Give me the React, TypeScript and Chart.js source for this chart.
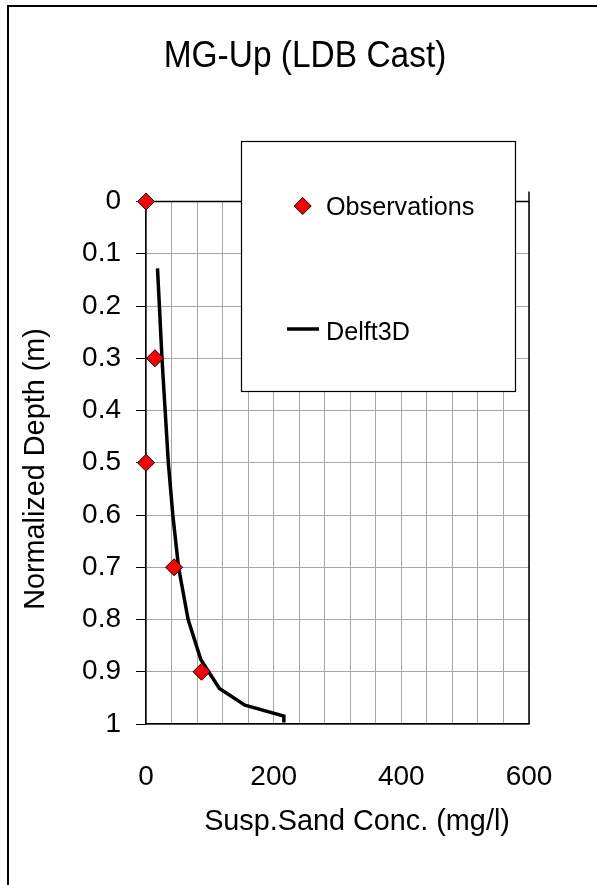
import React, { useEffect, useRef } from 'react';
import { Chart, registerables } from 'chart.js';

Chart.register(...registerables);

const chartTitle = 'MG-Up (LDB Cast)';
const xAxisTitle = 'Susp.Sand Conc. (mg/l)';
const yAxisTitle = 'Normalized Depth (m)';

const obsLabel = 'Observations';
const obsConc = [0, 14, 0, 44, 87];
const obsDepth = [0, 0.3, 0.5, 0.7, 0.9];

const modelLabel = 'Delft3D';
const modelDepth = [0.128, 0.2, 0.3, 0.4, 0.5, 0.6, 0.7, 0.8, 0.877, 0.932, 0.964, 0.985, 0.997];
const modelConc = [18, 21, 25, 30, 35, 42, 51, 66, 86, 115, 155, 216, 216];

const xLabelValues = [0, 200, 400, 600];
const yLabelValues = [0, 0.1, 0.2, 0.3, 0.4, 0.5, 0.6, 0.7, 0.8, 0.9, 1];

const FONT = "'Liberation Sans', Arial, sans-serif";

function scaledText(ctx: CanvasRenderingContext2D, text: string, x: number, y: number, size: number, sx: number, align: CanvasTextAlign, rot = 0) {
  ctx.save();
  ctx.translate(x, y);
  if (rot) ctx.rotate(rot);
  ctx.scale(sx, 1);
  ctx.font = `${size}px ${FONT}`;
  ctx.textAlign = align;
  ctx.textBaseline = 'alphabetic';
  ctx.fillStyle = '#000';
  ctx.fillText(text, 0, 0);
  ctx.restore();
}

const decorPlugin = {
  id: 'decor',
  beforeDatasetsDraw(chart: any) {
    const { ctx, chartArea } = chart;
    ctx.save();
    ctx.strokeStyle = '#000';
    ctx.lineWidth = 1.5;
    ctx.beginPath();
    ctx.moveTo(chartArea.left, chartArea.top);
    ctx.lineTo(chartArea.right, chartArea.top);
    ctx.moveTo(chartArea.right, chartArea.top - 10);
    ctx.lineTo(chartArea.right, chartArea.bottom);
    ctx.stroke();
    ctx.restore();
  },
  afterDraw(chart: any) {
    const { ctx } = chart;
    ctx.save();
    // outer frame
    ctx.fillStyle = '#000';
    ctx.fillRect(7, 5, 2, 880);
    ctx.fillRect(7, 5, 590, 2);

    // chart title
    scaledText(ctx, chartTitle, 305, 66.5, 36, 0.93, 'center');
    // x axis title
    scaledText(ctx, xAxisTitle, 357, 830, 30, 0.96, 'center');
    // y axis title
    scaledText(ctx, yAxisTitle, 43.5, 469, 30, 0.96, 'center', -Math.PI / 2);

    // legend box
    ctx.fillStyle = '#fff';
    ctx.fillRect(241.5, 141.5, 274, 250);
    ctx.strokeStyle = '#000';
    ctx.lineWidth = 1.2;
    ctx.strokeRect(241.5, 141.5, 274, 250);

    const ds = chart.data.datasets;
    const o = ds[0];
    ctx.beginPath();
    const cx = 302.7, cy = 206, r = 8.5;
    ctx.moveTo(cx - r, cy);
    ctx.lineTo(cx, cy - r);
    ctx.lineTo(cx + r, cy);
    ctx.lineTo(cx, cy + r);
    ctx.closePath();
    ctx.fillStyle = o.backgroundColor;
    ctx.fill();
    ctx.strokeStyle = o.borderColor;
    ctx.lineWidth = 1;
    ctx.stroke();

    scaledText(ctx, o.label, 326, 215, 26.5, 0.95, 'left');

    const m = ds[1];
    ctx.beginPath();
    ctx.moveTo(287, 329);
    ctx.lineTo(319, 329);
    ctx.strokeStyle = m.borderColor;
    ctx.lineWidth = 3.5;
    ctx.stroke();
    scaledText(ctx, m.label, 326, 339.5, 26.5, 0.95, 'left');

    ctx.restore();
  },
};

export default function App() {
  const ref = useRef<HTMLCanvasElement | null>(null);

  useEffect(() => {
    if (!ref.current) return;
    const chart = new Chart(ref.current, {
      type: 'scatter',
      data: {
        datasets: [
          {
            label: obsLabel,
            data: obsConc.map((x, i) => ({ x, y: obsDepth[i] })),
            showLine: false,
            pointStyle: 'rectRot',
            pointRadius: 8.5,
            pointHoverRadius: 8.5,
            backgroundColor: '#ff0000',
            borderColor: '#000000',
            borderWidth: 1,
            clip: false,
            order: 0,
          } as any,
          {
            label: modelLabel,
            data: modelConc.map((x, i) => ({ x, y: modelDepth[i] })),
            showLine: true,
            borderColor: '#000000',
            backgroundColor: '#000000',
            borderWidth: 3.5,
            pointRadius: 0,
            tension: 0,
            fill: false,
            clip: false,
            order: 1,
          } as any,
        ],
      },
      options: {
        responsive: false,
        animation: false,
        devicePixelRatio: 1,
        layout: { padding: { left: 0, top: 201.5, right: 68, bottom: 61 } },
        plugins: {
          legend: { display: false },
          title: { display: false },
          tooltip: { enabled: false },
        },
        scales: {
          x: {
            type: 'linear',
            min: 0,
            max: 600,
            afterFit: (s: any) => { s.height = 100; },
            ticks: {
              stepSize: 40,
              autoSkip: false,
              maxRotation: 0,
              padding: 36,
              color: '#000',
              font: { family: FONT, size: 28 },
              callback: (v: any) => (xLabelValues.includes(Number(v)) ? String(v) : ''),
            },
            grid: { color: '#a6a6a6', lineWidth: 1, drawTicks: false },
            border: { color: '#000', width: 1.5 },
          },
          y: {
            type: 'linear',
            min: 0,
            max: 1,
            reverse: true,
            afterFit: (s: any) => { s.width = 146; },
            ticks: {
              stepSize: 0.1,
              autoSkip: false,
              padding: 15,
              color: '#000',
              font: { family: FONT, size: 28 },
              callback: (v: any) => {
                const r = Math.round(Number(v) * 10) / 10;
                return yLabelValues.includes(r) ? String(r) : '';
              },
            },
            grid: { color: '#a6a6a6', lineWidth: 1, tickColor: '#000', tickLength: 10, drawTicks: true },
            border: { color: '#000', width: 1.5 },
          },
        },
      },
      plugins: [decorPlugin],
    } as any);
    return () => chart.destroy();
  }, []);

  return (
    <div style={{ position: 'absolute', left: 0, top: 0, width: 597, height: 885, background: '#fff' }}>
      <canvas ref={ref} width={597} height={885} style={{ width: 597, height: 885, display: 'block' }} />
    </div>
  );
}
